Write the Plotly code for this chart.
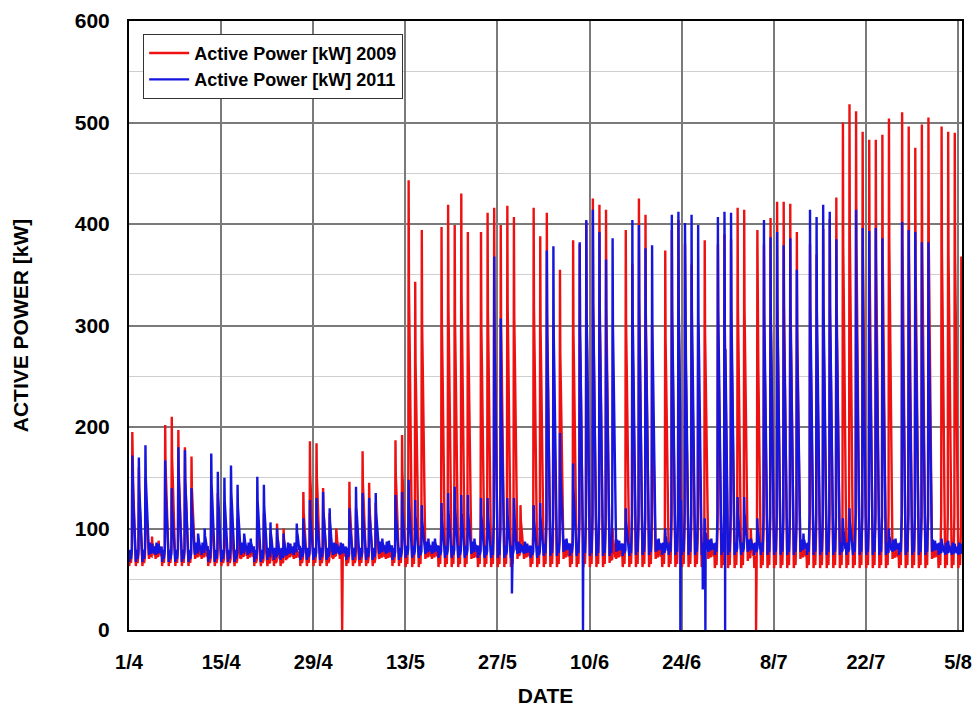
import plotly.graph_objects as go

# ---- data ----
TICK_DAYS = [0, 14, 28, 42, 56, 70, 84, 98, 112, 126]
TICK_LABELS = ["1/4", "15/4", "29/4", "13/5", "27/5", "10/6", "24/6", "8/7", "22/7", "5/8"]

# daily peak of active power [kW], one value per day from 1/4 (day 0) to 5/8 (day 126)
RED_PEAK_2009 = [
    195, 160, 150, 92, 88, 202, 210,
    197, 180, 171, 85, 85, 140, 135,
    125, 120, 110, 90, 85, 120, 115,
    95, 105, 100, 85, 80, 136, 186,
    184, 140, 115, 100, 85, 146, 120,
    176, 145, 125, 82, 80, 187, 192,
    443, 343, 394, 85, 85, 397, 419,
    399, 430, 392, 80, 392, 411, 416,
    399, 418, 407, 123, 85, 416, 388,
    411, 300, 355, 85, 384, 380, 402,
    425, 419, 414, 100, 85, 394, 360,
    425, 409, 300, 85, 374, 394, 404,
    380, 360, 300, 384, 85, 380, 390,
    385, 416, 414, 100, 394, 380, 406,
    422, 422, 420, 392, 85, 380, 370,
    395, 405, 426, 500, 518, 511, 491,
    483, 483, 488, 504, 82, 510, 496,
    475, 498, 505, 82, 496, 491, 490,
    368,
]
BLUE_PEAK_2011 = [
    172, 170, 182, 85, 85, 167, 140,
    180, 177, 140, 95, 100, 174, 156,
    150, 162, 143, 95, 90, 151, 143,
    106, 100, 95, 85, 105, 110, 128,
    130, 136, 120, 85, 85, 120, 141,
    135, 130, 135, 90, 88, 133, 136,
    148, 128, 123, 90, 90, 125, 135,
    141, 133, 133, 90, 130, 130, 368,
    307, 130, 130, 85, 85, 123, 125,
    374, 378, 194, 90, 164, 382, 404,
    414, 392, 365, 386, 88, 120, 404,
    399, 376, 379, 90, 100, 409, 412,
    401, 409, 399, 110, 90, 407, 412,
    411, 131, 131, 90, 110, 404, 387,
    392, 379, 386, 355, 95, 414, 407,
    419, 412, 385, 110, 120, 414, 396,
    393, 396, 386, 100, 90, 402, 394,
    392, 382, 382, 88, 90, 88, 85,
    85,
]
# daily night-time minimum [kW]
RED_LOW_2009 = [
    63, 63, 63, 70, 70, 63, 63,
    63, 63, 63, 70, 70, 63, 63,
    63, 63, 63, 70, 70, 63, 63,
    63, 63, 63, 70, 70, 63, 63,
    63, 63, 63, 70, 70, 63, 63,
    63, 63, 63, 70, 70, 63, 63,
    62, 62, 62, 70, 70, 62, 62,
    62, 62, 62, 70, 62, 62, 62,
    62, 62, 62, 70, 70, 62, 62,
    62, 62, 62, 70, 62, 62, 62,
    62, 62, 62, 66, 70, 62, 62,
    62, 62, 62, 70, 62, 62, 62,
    62, 62, 62, 62, 70, 61, 61,
    61, 61, 61, 68, 61, 61, 61,
    61, 61, 61, 61, 70, 61, 61,
    61, 61, 61, 61, 61, 61, 61,
    61, 61, 61, 61, 70, 61, 61,
    61, 61, 61, 70, 61, 61, 61,
    61,
]
BLUE_LOW_2011 = [
    67, 67, 67, 74, 74, 67, 67,
    67, 67, 67, 74, 74, 67, 67,
    67, 67, 67, 74, 74, 67, 67,
    69, 69, 69, 74, 74, 69, 69,
    69, 69, 69, 74, 74, 69, 69,
    69, 69, 69, 75, 75, 69, 69,
    71, 71, 71, 75, 75, 71, 71,
    71, 71, 71, 75, 71, 71, 71,
    71, 71, 71, 75, 75, 71, 71,
    73, 73, 73, 77, 73, 73, 73,
    73, 73, 73, 73, 77, 73, 73,
    74, 74, 74, 77, 74, 74, 74,
    74, 74, 74, 74, 77, 74, 74,
    74, 74, 74, 77, 74, 74, 74,
    74, 74, 74, 74, 77, 74, 74,
    74, 74, 74, 74, 74, 74, 74,
    74, 74, 74, 74, 77, 74, 74,
    74, 74, 74, 77, 74, 74, 74,
    74,
]
# short outages (day, kW)
RED_DIPS_2009 = [(32.4, 0), (95.3, 0)]
BLUE_DIPS_2011 = [(58.2, 36), (69.0, 0), (83.8, 0), (87.2, 40), (87.6, 0), (90.6, 0)]

# within-day load shape: time of day, share of the daily swing, small night ripple [kW]
DAY_T = [0.04, 0.18, 0.30, 0.44, 0.50, 0.55, 0.64, 0.76, 0.88, 0.96]
DAY_F = [0.00, 0.00, 0.00, 0.12, 1.00, 0.72, 0.60, 0.42, 0.16, 0.03]
DAY_W = [0, 12, 3, 0, 0, 0, 0, 0, 0, 8]


def build(peaks, lows, dips):
    pts = []
    for d, (pk, lo) in enumerate(zip(peaks, lows)):
        for t, f, w in zip(DAY_T, DAY_F, DAY_W):
            pts.append((d + t, lo + f * (pk - lo) + w))
    pts += list(dips)
    pts.sort(key=lambda p: p[0])
    return [p[0] for p in pts], [p[1] for p in pts]


rx, ry = build(RED_PEAK_2009, RED_LOW_2009, RED_DIPS_2009)
bx, by = build(BLUE_PEAK_2011, BLUE_LOW_2011, BLUE_DIPS_2011)

FONT = "Liberation Sans, Arial, sans-serif"

fig = go.Figure()
fig.add_trace(go.Scatter(x=rx, y=ry, mode="lines", name="Active Power [kW] 2009",
                         line=dict(color="#ee1111", width=2.4)))
fig.add_trace(go.Scatter(x=bx, y=by, mode="lines", name="Active Power [kW] 2011",
                         line=dict(color="#1515dd", width=2.4)))

fig.update_layout(
    width=974, height=712,
    margin=dict(l=129, r=12, t=21, b=82),
    paper_bgcolor="white", plot_bgcolor="white",
    font=dict(family=FONT, color="black", weight="bold"),
    legend=dict(x=0.017, y=0.979, xanchor="left", yanchor="top",
                bgcolor="white", bordercolor="#333333", borderwidth=1,
                font=dict(size=18, family=FONT, weight="bold"),
                tracegroupgap=0, itemwidth=40, entrywidth=290),
    showlegend=True,
)
fig.update_xaxes(
    range=[0, 126.6], tickmode="array", tickvals=TICK_DAYS, ticktext=TICK_LABELS,
    showgrid=True, gridcolor="#7a7a7a", gridwidth=1.5,
    showline=True, linecolor="black", linewidth=2, mirror=True,
    ticks="", zeroline=False, ticklabelstandoff=13, automargin=False,
    ticklabeloverflow="allow",
    tickfont=dict(size=20, family=FONT, weight="bold"),
    title=dict(text="DATE", font=dict(size=21, family=FONT, weight="bold"), standoff=16),
)
fig.update_yaxes(
    range=[0, 600], dtick=100, tick0=0,
    showgrid=True, gridcolor="#7a7a7a", gridwidth=1.5,
    minor=dict(dtick=50, showgrid=True, gridcolor="#cfcfcf", gridwidth=1.2),
    showline=True, linecolor="black", linewidth=2, mirror=True,
    ticks="", zeroline=False, ticklabelstandoff=13, automargin=False,
    ticklabeloverflow="allow",
    tickfont=dict(size=21, family=FONT, weight="bold"),
    title=dict(text="ACTIVE POWER [kW]", font=dict(size=21, family=FONT, weight="bold"), standoff=40),
)

fig.write_html("out.html")
